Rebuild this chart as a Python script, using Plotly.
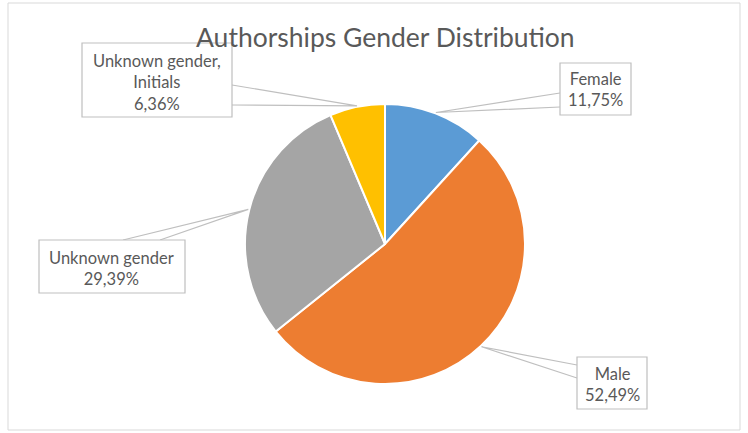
import math
import plotly.graph_objects as go

# ---- data ----
categories = ["Female", "Male", "Unknown gender", "Unknown gender, Initials"]
values = [11.75, 52.49, 29.39, 6.36]
label_lines = [["Female"], ["Male"], ["Unknown gender"], ["Unknown gender,", "Initials"]]
colors = ["#5B9BD5", "#ED7D31", "#A5A5A5", "#FFC000"]
title_text = "Authorships Gender Distribution"

W, H = 748, 433
CX, CY, R = 385, 244, 140  # pie centre / radius in px

# label boxes (px): left, top, right, bottom ; text centre y ; two anchor points on the box
boxes = [
    (560, 63, 631, 115),
    (577, 357, 647, 409),
    (39, 240, 185, 293),
    (82, 43, 232, 117),
]
text_cy = [90, 384, 268, 82]
anchors = [
    ((560, 93), (560, 107)),
    ((577, 365), (577, 378)),
    ((123, 240), (160, 240)),
    ((232, 85), (232, 105)),
]


def px(x):
    return x / W


def py(y):
    return 1 - y / H


fig = go.Figure()
fig.add_trace(go.Pie(
    labels=categories,
    values=values,
    sort=False,
    direction="clockwise",
    rotation=0,
    marker=dict(colors=colors, line=dict(color="white", width=2)),
    textinfo="none",
    hoverinfo="label+percent",
    showlegend=False,
    domain=dict(x=[px(CX - R), px(CX + R)], y=[py(CY + R), py(CY - R)]),
))

shapes = []
annotations = []
total = sum(values)
cum = 0.0
for i, v in enumerate(values):
    mid = (cum + v / 2) / total * 2 * math.pi
    cum += v
    tx = CX + (R + 1) * math.sin(mid)
    ty = CY - (R + 1) * math.cos(mid)
    (a1, a2) = anchors[i]
    path = f"M {px(a1[0])} {py(a1[1])} L {px(tx)} {py(ty)} L {px(a2[0])} {py(a2[1])}"
    shapes.append(dict(type="path", xref="paper", yref="paper", path=path,
                       line=dict(color="#BFBFBF", width=1.2)))
    l, t, r_, b = boxes[i]
    shapes.append(dict(type="rect", xref="paper", yref="paper",
                       x0=px(l), x1=px(r_), y0=py(b), y1=py(t),
                       fillcolor="white", line=dict(color="#BFBFBF", width=1.2)))
    pct = f"{v:.2f}%".replace(".", ",")
    text = "<br>".join(label_lines[i] + [pct])
    annotations.append(dict(
        x=px((l + r_) / 2), y=py(text_cy[i]), xref="paper", yref="paper",
        xanchor="center", yanchor="middle", showarrow=False,
        text=text, align="center",
        font=dict(family="Lato", size=16.5, color="#595959"),
    ))

# outer chart border
shapes.append(dict(type="rect", xref="paper", yref="paper",
                   x0=px(8), x1=px(740), y0=py(430), y1=py(3),
                   line=dict(color="#D9D9D9", width=1), layer="below"))

annotations.append(dict(
    x=px(386), y=py(37), xref="paper", yref="paper", xanchor="center", yanchor="middle",
    showarrow=False, text=title_text,
    font=dict(family="Lato", size=26.5, color="#595959"),
))

fig.update_layout(
    width=W, height=H,
    margin=dict(l=0, r=0, t=0, b=0),
    paper_bgcolor="white", plot_bgcolor="white",
    shapes=shapes, annotations=annotations,
)

fig.write_html("out.html", config={"displayModeBar": False},
               post_script="document.body.style.margin='0';")
